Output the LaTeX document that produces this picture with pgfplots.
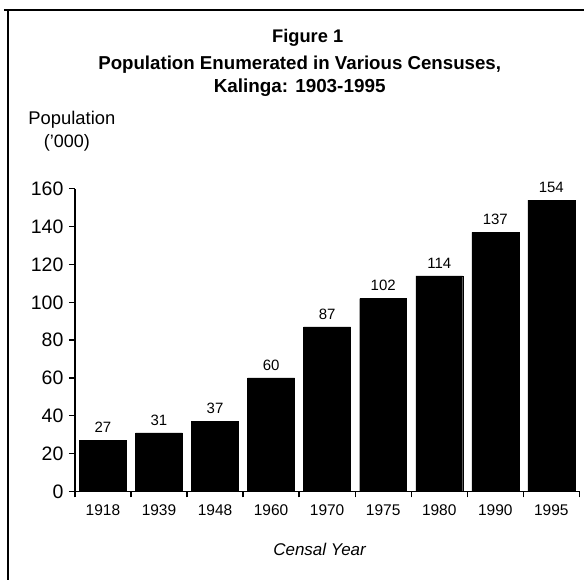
\documentclass[border=0pt]{standalone}
\usepackage{pgfplots}
\pgfplotsset{compat=1.18}
\usepackage{fontspec}
\setmainfont{Liberation Sans}
\begin{document}
\begin{tikzpicture}[x=1pt,y=1pt]
\path (0,0) rectangle (585,-581);
\draw[line width=1.3pt] (4,-10) -- (585,-10);
\draw[line width=1.3pt] (8,-10) -- (8,-581);
\node[font=\bfseries\fontsize{18.3}{20}\selectfont] at (308,-38) {Figure 1};
\node[font=\bfseries\fontsize{18.7}{20}\selectfont] at (300,-65) {Population Enumerated in Various Censuses,};
\node[font=\bfseries\fontsize{18.9}{20}\selectfont] at (300,-88) {Kalinga: 1903-1995};
\node[font=\fontsize{18.4}{20}\selectfont] at (72,-120) {Population};
\node[font=\fontsize{18}{20}\selectfont] at (67,-143) {('000)};
\begin{axis}[
  at={(75pt,-492pt)}, anchor=south west,
  scale only axis, width=505pt, height=303pt,
  xmin=-0.5, xmax=8.5, ymin=0, ymax=160,
  axis x line*=bottom, axis y line*=left,
  axis line style={-, line width=1.3pt, black},
  ytick={0,20,...,160},
  tick align=outside,
  major tick length=6pt,
  tick style={black, line width=1.3pt},
  xtick={-0.5,0.5,...,8.5}, xticklabels={},
  extra x ticks={0,1,2,3,4,5,6,7,8},
  extra x tick labels={1918,1939,1948,1960,1970,1975,1980,1990,1995},
  extra x tick style={major tick length=0pt, tick label style={yshift=-10pt}},
  x tick label style={font=\fontsize{15.5}{17}\selectfont},
  y tick label style={font=\fontsize{19.5}{21}\selectfont, xshift=-2pt},
  /pgf/number format/assume math mode=true,
  xlabel={Censal Year},
  xlabel style={font=\itshape\fontsize{17}{19}\selectfont, at={(axis description cs:0.485,0)}, anchor=center, yshift=-58pt},
  nodes near coords,
  every node near coord/.style={font=\fontsize{15}{16}\selectfont, black, yshift=4pt},
  clip=false,
]
\addplot[ybar, bar width=47pt, fill=black, draw=black] coordinates {
(0,27) (1,31) (2,37) (3,60) (4,87) (5,102) (6,114) (7,137) (8,154)};
\end{axis}
\end{tikzpicture}
\end{document}
